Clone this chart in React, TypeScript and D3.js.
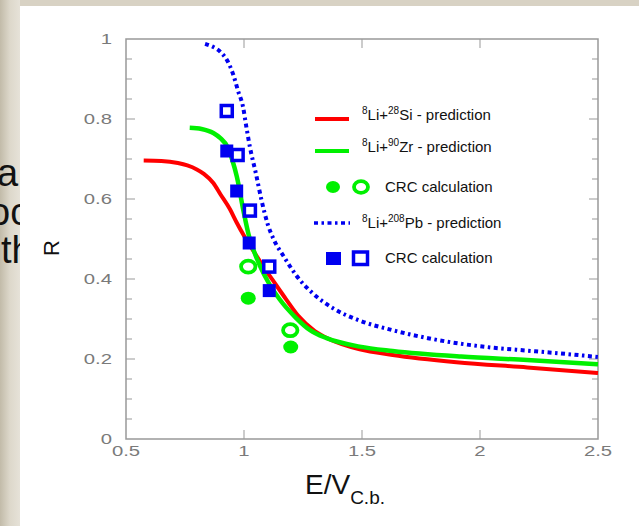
import React from 'react'
import * as d3 from 'd3'

const width = 639
const height = 526

// curves: [E/Vcb, R]
const siCurve: [number, number][] = [
  [0.575, 0.696], [0.65, 0.695], [0.72, 0.69], [0.76, 0.684], [0.8, 0.674], [0.83, 0.663],
  [0.87, 0.64], [0.9, 0.612], [0.94, 0.575], [0.97, 0.54], [1.0, 0.508], [1.04, 0.47],
  [1.08, 0.433], [1.13, 0.39], [1.18, 0.348], [1.23, 0.308], [1.3, 0.27], [1.36, 0.25],
  [1.49, 0.224], [1.63, 0.21], [1.9, 0.192], [2.2, 0.179], [2.5, 0.165]
]
const zrCurve: [number, number][] = [
  [0.77, 0.778], [0.82, 0.775], [0.87, 0.765], [0.9, 0.752], [0.93, 0.73], [0.95, 0.698],
  [0.97, 0.655], [0.997, 0.5725], [1.02, 0.51], [1.045, 0.465], [1.07, 0.43], [1.1, 0.395],
  [1.15, 0.35], [1.22, 0.303], [1.28, 0.272], [1.35, 0.252], [1.49, 0.231], [1.63, 0.22],
  [1.92, 0.206], [2.2, 0.1975], [2.5, 0.187]
]
const pbCurve: [number, number][] = [
  [0.835, 0.988], [0.87, 0.98], [0.9, 0.968], [0.93, 0.945], [0.955, 0.91], [0.975, 0.87],
  [0.996, 0.83], [1.01, 0.78], [1.025, 0.73], [1.05, 0.665], [1.075, 0.595], [1.1, 0.538],
  [1.125, 0.5], [1.17, 0.455], [1.22, 0.41], [1.29, 0.365], [1.38, 0.326], [1.49, 0.296],
  [1.63, 0.272], [1.78, 0.252], [1.92, 0.238], [2.06, 0.228], [2.2, 0.221], [2.34, 0.214],
  [2.5, 0.205]
]

// CRC calculation points
const zrCrcFilled: [number, number][] = [[1.018, 0.352], [1.198, 0.23]]
const zrCrcOpen: [number, number][] = [[1.018, 0.431], [1.196, 0.272]]
const pbCrcFilled: [number, number][] = [[0.927, 0.72], [0.969, 0.62], [1.022, 0.49], [1.107, 0.371]]
const pbCrcOpen: [number, number][] = [[0.927, 0.82], [0.973, 0.71], [1.025, 0.571], [1.107, 0.431]]

const xTicks = [0.5, 1, 1.5, 2, 2.5]
const xTickLabels = ['0.5', '1', '1.5', '2', '2.5']
const yTicks = [0, 0.2, 0.4, 0.6, 0.8, 1]
const yTickLabels = ['0', '0.2', '0.4', '0.6', '0.8', '1']
const yMinorTicks = d3.range(1, 20).map(i => i * 0.05)

const red = '#ff0000'
const green = '#00f000'
const blue = '#0000f0'
const axisColor = '#999'
const labelColor = '#7a7a7a'
const pbDash = '4,3.5,2.5,3.5'

const x = d3.scaleLinear().domain([0.5, 2.5]).range([126, 598])
const y = d3.scaleLinear().domain([0, 1]).range([439, 39])

const line = d3
  .line<[number, number]>()
  .x(d => x(d[0]))
  .y(d => y(d[1]))
  .curve(d3.curveMonotoneX)

const Sup = ({ children }: { children: string }) => (
  <tspan fontSize={10} dy={-6}>{children}</tspan>
)

const App = () => {
  const [x0, x1] = x.range()
  const [y0, y1] = y.range()
  return (
    <svg
      width={width}
      height={height}
      style={{ position: 'absolute', left: 0, top: 0, display: 'block' }}
      fontFamily="'Liberation Sans', Arial, sans-serif"
    >
      <defs>
        <linearGradient id="edge" x1="0" x2="1" y1="0" y2="0">
          <stop offset="0" stopColor="#c2bba9" />
          <stop offset="0.5" stopColor="#ddd8cb" />
          <stop offset="1" stopColor="#e6e2d8" />
        </linearGradient>
      </defs>
      <rect x={0} y={0} width={width} height={height} fill="#d8d2c4" />
      <rect x={0} y={0} width={20} height={height} fill="url(#edge)" />

      {/* slide text hidden behind the white panel */}
      <g fontSize={38} fill="#111">
        <text x={-3} y={186}>a</text>
        <text x={-11} y={225}>oc</text>
        <text x={1} y={263}>th</text>
      </g>

      <rect x={20} y={6} width={width - 20} height={height - 6} fill="#fff" />

      {/* frame */}
      <rect x={x0} y={y1} width={x1 - x0} height={y0 - y1} fill="none" stroke={axisColor} strokeWidth={1.5} />

      {/* x ticks */}
      {xTicks.slice(1, -1).map(t => (
        <g key={'xt' + t} stroke={axisColor} strokeWidth={1}>
          <line x1={x(t)} x2={x(t)} y1={y0} y2={y0 - 9} />
          <line x1={x(t)} x2={x(t)} y1={y1} y2={y1 + 9} />
        </g>
      ))}
      {/* y ticks */}
      {yMinorTicks.map((t, i) => {
        const len = (i + 1) % 4 === 0 ? 9 : 6
        return (
          <g key={'yt' + i} stroke={axisColor} strokeWidth={1}>
            <line x1={x0} x2={x0 + len} y1={y(t)} y2={y(t)} />
            <line x1={x1} x2={x1 - len} y1={y(t)} y2={y(t)} />
          </g>
        )
      })}

      {/* tick labels */}
      <g fontSize={14} fill={labelColor}>
        {xTicks.map((t, i) => (
          <g key={'xl' + t} transform={`translate(${x(t)},${456}) scale(1.45,1)`}>
            <text textAnchor="middle">{xTickLabels[i]}</text>
          </g>
        ))}
        {yTicks.map((t, i) => (
          <g key={'yl' + t} transform={`translate(${112},${y(t) + 5}) scale(1.45,1)`}>
            <text textAnchor="end">{yTickLabels[i]}</text>
          </g>
        ))}
      </g>

      {/* axis titles */}
      <text transform="translate(59,248) rotate(-90)" textAnchor="middle" fontSize={22} fill="#111">R</text>
      <text x={305} y={494} fontSize={28} fill="#111">
        E/V<tspan fontSize={19} dy={10}>C.b.</tspan>
      </text>

      {/* curves */}
      <path d={line(siCurve) ?? ''} fill="none" stroke={red} strokeWidth={4} />
      <path d={line(zrCurve) ?? ''} fill="none" stroke={green} strokeWidth={4.5} />
      <path d={line(pbCurve) ?? ''} fill="none" stroke={blue} strokeWidth={4} strokeDasharray={pbDash} />

      {/* CRC points */}
      {zrCrcFilled.map((d, i) => (
        <ellipse key={'zf' + i} cx={x(d[0])} cy={y(d[1])} rx={7.5} ry={6.5} fill={green} />
      ))}
      {zrCrcOpen.map((d, i) => (
        <ellipse key={'zo' + i} cx={x(d[0])} cy={y(d[1])} rx={7.2} ry={6} fill="none" stroke={green} strokeWidth={3.8} />
      ))}
      {pbCrcFilled.map((d, i) => (
        <rect key={'pf' + i} x={x(d[0]) - 6.5} y={y(d[1]) - 6.5} width={13} height={13} fill={blue} />
      ))}
      {pbCrcOpen.map((d, i) => (
        <rect key={'po' + i} x={x(d[0]) - 5.5} y={y(d[1]) - 5.5} width={11} height={11} fill="#fff" stroke={blue} strokeWidth={3.5} />
      ))}

      {/* legend */}
      <g fontSize={15} fill="#111">
        <line x1={315} x2={349} y1={119} y2={119} stroke={red} strokeWidth={4} />
        <text x={362} y={120}>
          <Sup>8</Sup><tspan dy={6}>Li+</tspan><Sup>28</Sup><tspan dy={6}>Si - prediction</tspan>
        </text>

        <line x1={315} x2={349} y1={151} y2={151} stroke={green} strokeWidth={4} />
        <text x={362} y={152}>
          <Sup>8</Sup><tspan dy={6}>Li+</tspan><Sup>90</Sup><tspan dy={6}>Zr - prediction</tspan>
        </text>

        <ellipse cx={333} cy={187} rx={7} ry={6} fill={green} />
        <ellipse cx={361} cy={187} rx={7} ry={5.8} fill="none" stroke={green} strokeWidth={3.8} />
        <text x={385} y={192}>CRC calculation</text>

        <line x1={314} x2={350} y1={223} y2={223} stroke={blue} strokeWidth={3.5} strokeDasharray={pbDash} />
        <text x={362} y={228}>
          <Sup>8</Sup><tspan dy={6}>Li+</tspan><Sup>208</Sup><tspan dy={6}>Pb - prediction</tspan>
        </text>

        <rect x={326} y={252} width={15} height={13} fill={blue} />
        <rect x={353.5} y={252} width={14} height={12.5} fill="#fff" stroke={blue} strokeWidth={3.5} />
        <text x={385} y={263}>CRC calculation</text>
      </g>
    </svg>
  )
}

export default App
